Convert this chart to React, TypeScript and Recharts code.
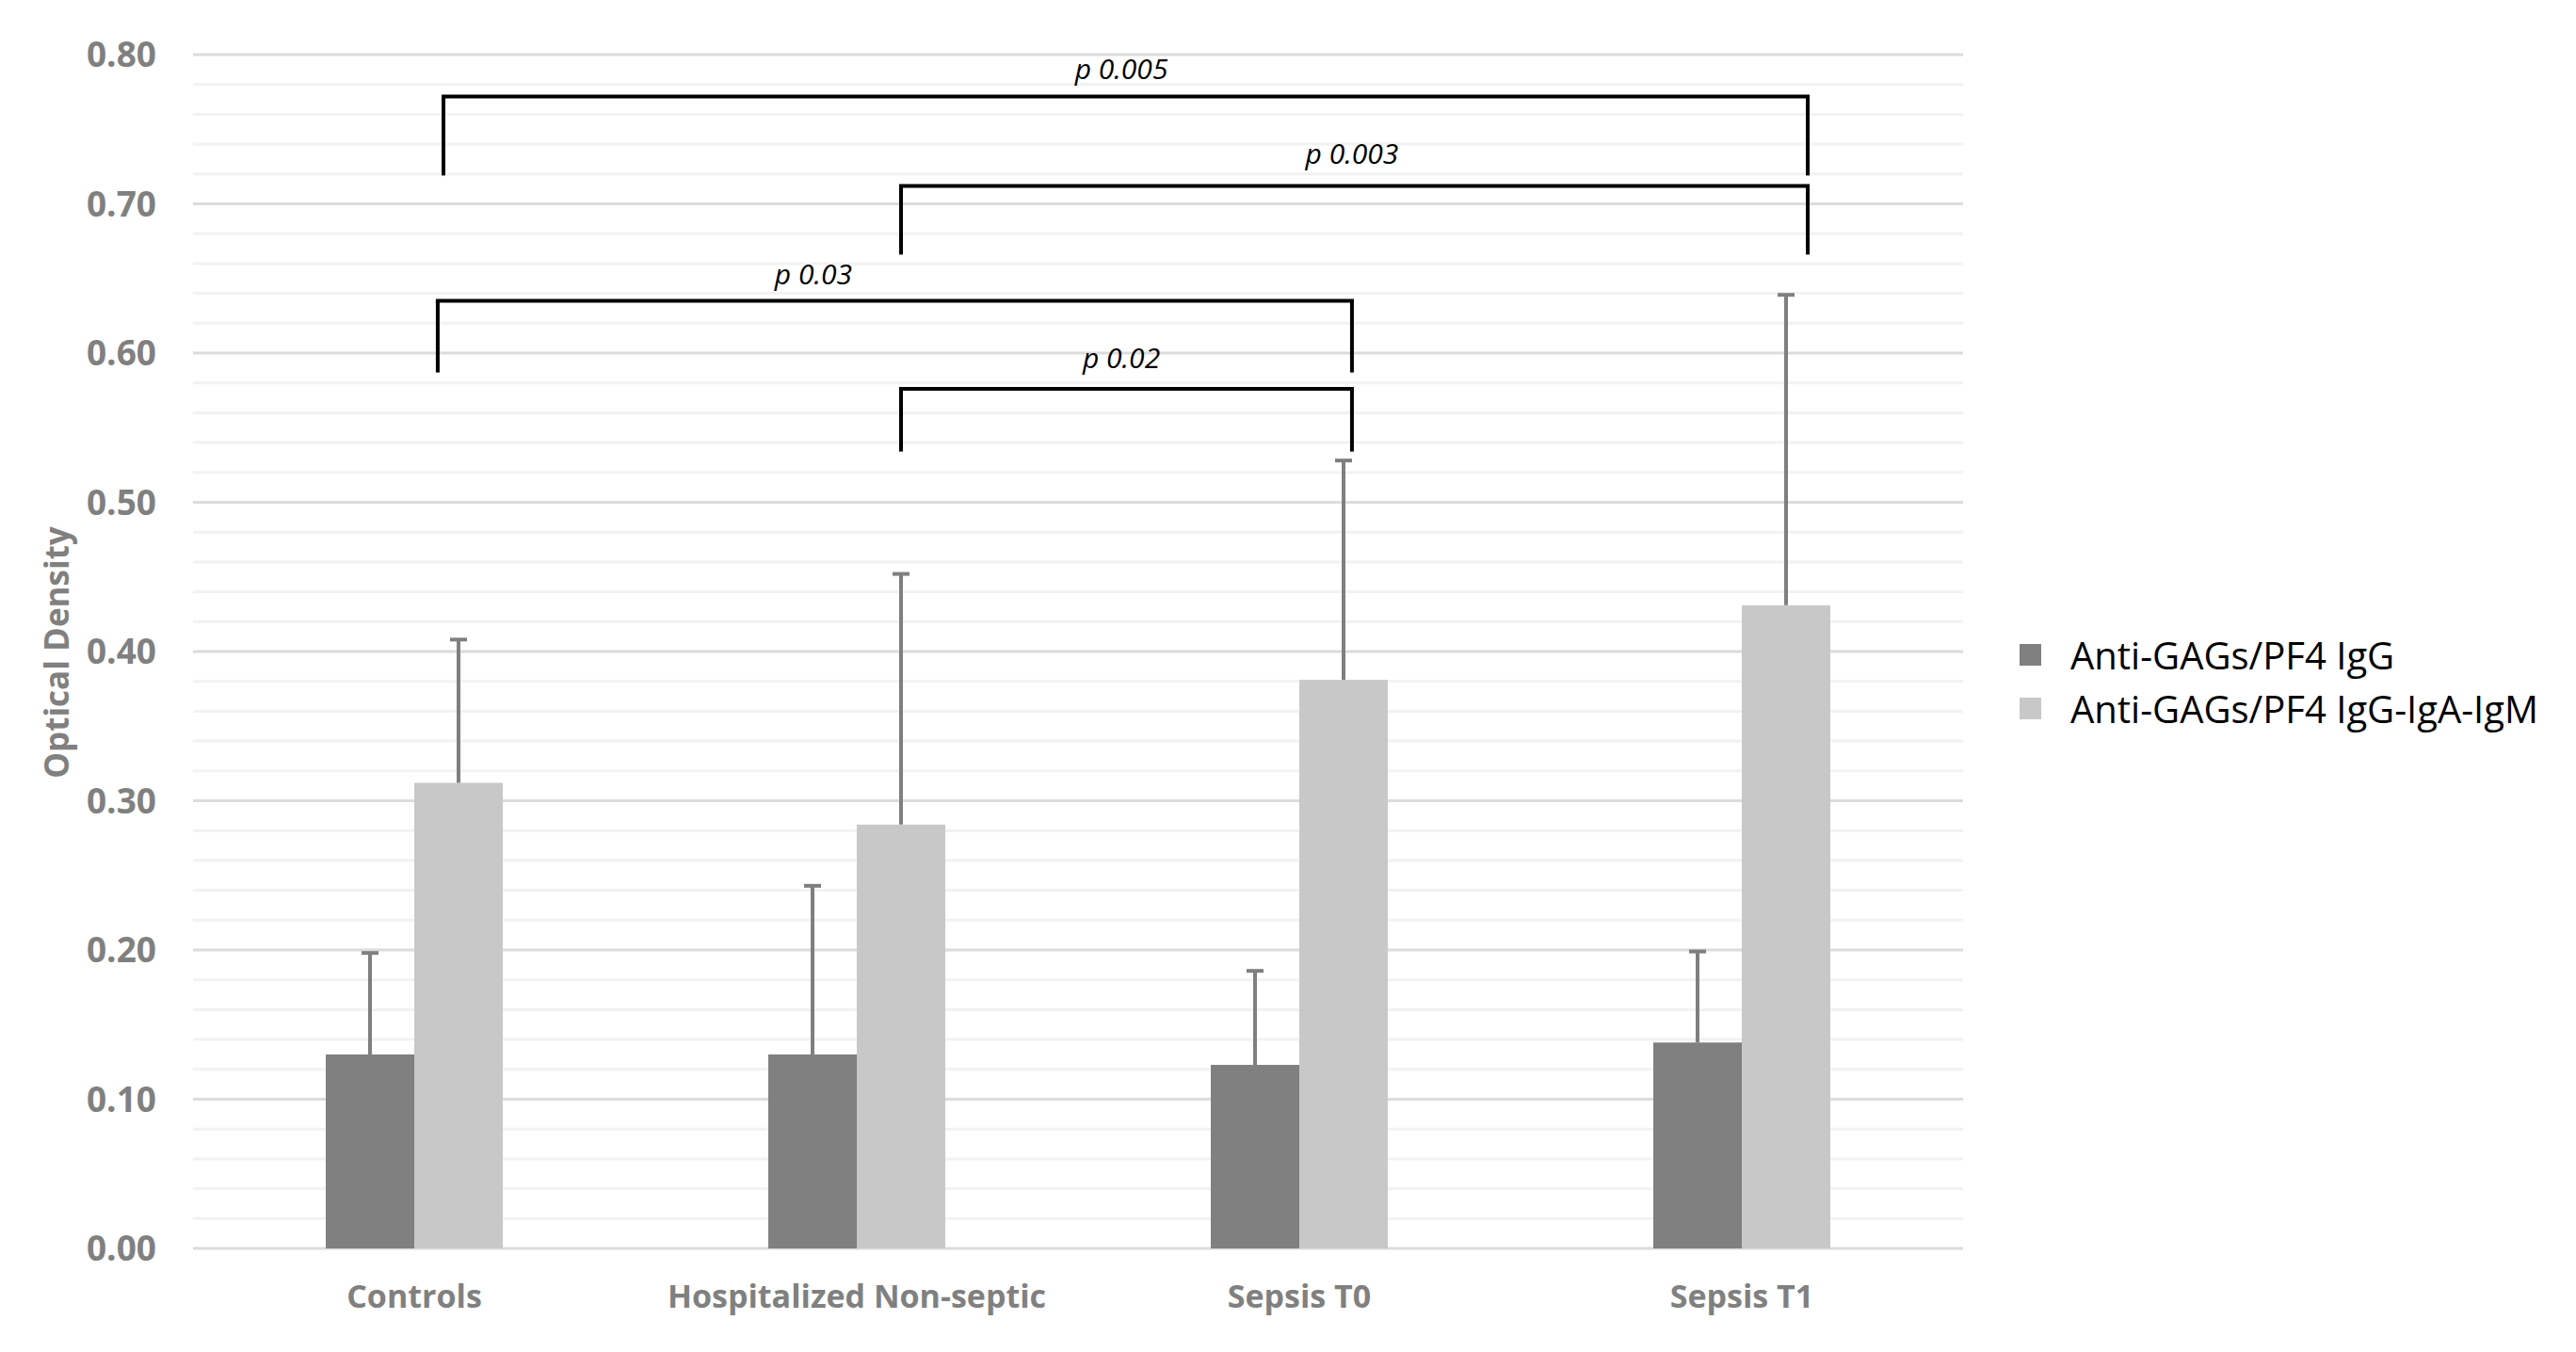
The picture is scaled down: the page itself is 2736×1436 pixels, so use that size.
import { BarChart, Bar, XAxis, YAxis, CartesianGrid, Legend, ReferenceLine, ReferenceDot } from "recharts";

// groups on the x axis
const categories = ["Controls", "Hospitalized Non-septic", "Sepsis T0", "Sepsis T1"];

// mean optical density and SD (upper error bar only)
const iggMean = [0.13, 0.13, 0.123, 0.138];
const iggSd = [0.068, 0.113, 0.063, 0.061];
const allMean = [0.312, 0.284, 0.381, 0.431];
const allSd = [0.096, 0.168, 0.147, 0.208];

const seriesNames = ["Anti-GAGs/PF4 IgG", "Anti-GAGs/PF4 IgG-IgA-IgM"];
const seriesColors = ["#808080", "#c8c8c8"];

// every 0.02 gets a grid line, every 0.1 a label
const yTicks = [
  0, 0.02, 0.04, 0.06, 0.08, 0.1, 0.12, 0.14, 0.16, 0.18, 0.2, 0.22, 0.24, 0.26, 0.28, 0.3,
  0.32, 0.34, 0.36, 0.38, 0.4, 0.42, 0.44, 0.46, 0.48, 0.5, 0.52, 0.54, 0.56, 0.58, 0.6,
  0.62, 0.64, 0.66, 0.68, 0.7, 0.72, 0.74, 0.76, 0.78, 0.8,
];

// significance brackets (x in category units, 0..4; y in OD units)
const pLabels = ["p 0.005", "p 0.003", "p 0.03", "p 0.02"];
const bracketFrom = [0.566, 1.6, 0.553, 1.6];
const bracketTo = [3.649, 3.649, 2.619, 2.619];
const bracketTop = [0.772, 0.712, 0.635, 0.576];
const bracketFoot = [0.719, 0.666, 0.587, 0.534];
const pLabelX = [2.098, 2.619, 1.402, 2.098];
const pLabelY = [0.791, 0.734, 0.653, 0.597];

const data = categories.map((name, i) => ({
  name,
  pos: i + 0.5,
  igg: iggMean[i],
  iggSd: iggSd[i],
  all: allMean[i],
  allSd: allSd[i],
}));

const FONT = "'Open Sans', sans-serif";
const AXIS_GRAY = "#808080";

const isMajor = (v: number) => Math.round(v * 100) % 10 === 0;

// bar plus a one-sided error bar, scaled with the bar's own px/unit ratio
const barWithError = (sdKey: string, valKey: string) => (props: any) => {
  const { x, y, width, height, fill, payload } = props;
  const val = payload[valKey];
  const sd = payload[sdKey];
  const pxPerUnit = val ? height / val : 0;
  const cx = x + width / 2;
  const top = y - sd * pxPerUnit;
  return (
    <g>
      <rect x={x} y={y} width={width} height={height} fill={fill} />
      <line x1={cx} y1={y} x2={cx} y2={top} stroke="#7f7f7f" strokeWidth={4} />
      <line x1={cx - 9} y1={top} x2={cx + 9} y2={top} stroke="#7f7f7f" strokeWidth={4} />
    </g>
  );
};

const gridLine = (props: any) => {
  const major = props.index % 5 === 0;
  return (
    <line
      key={props.key}
      x1={props.x1}
      y1={props.y1}
      x2={props.x2}
      y2={props.y2}
      stroke={major ? "#dcdcdc" : "#f2f2f2"}
      strokeWidth={3}
    />
  );
};

const renderLegend = () => (
  <div style={{ fontFamily: FONT, fontSize: 40, color: "#000" }}>
    {seriesNames.map((n, i) => (
      <div key={n} style={{ display: "flex", alignItems: "center", height: 57, whiteSpace: "nowrap" }}>
        <span style={{ display: "inline-block", width: 23, height: 23, background: seriesColors[i], marginRight: 31 }} />
        <span>{n}</span>
      </div>
    ))}
  </div>
);

const yLabel = (props: any) => {
  const vb = props.viewBox;
  const cx = vb.x + 59;
  const cy = vb.y + vb.height / 2 + 1;
  return (
    <text
      x={cx}
      y={cy}
      transform={`rotate(-90, ${cx}, ${cy})`}
      textAnchor="middle"
      dominantBaseline="central"
      fill={AXIS_GRAY}
      fontFamily={FONT}
      fontWeight={700}
      fontSize={35}
    >
      Optical Density
    </text>
  );
};

const pText = (text: string) => (props: any) => {
  const vb = props.viewBox;
  return (
    <text
      x={vb.x + vb.width / 2}
      y={vb.y + vb.height / 2}
      textAnchor="middle"
      dominantBaseline="central"
      fontFamily={FONT}
      fontStyle="italic"
      fontSize={30}
      fill="#000"
    >
      {text}
    </text>
  );
};

export default function App() {
  return (
    <div style={{ width: 2736, height: 1436, background: "#fff" }}>
      <style>{"body{margin:0}"}</style>
      <BarChart
        width={2736}
        height={1436}
        data={data}
        margin={{ top: 58, right: 651, left: 0, bottom: 0 }}
        barCategoryGap="30%"
        barGap={0}
        style={{ fontFamily: FONT }}
      >
        <CartesianGrid vertical={false} horizontal={gridLine} />
        <XAxis
          dataKey="name"
          axisLine={false}
          tickLine={false}
          tickSize={0}
          tickMargin={39}
          interval={0}
          height={110}
          tick={{ fill: AXIS_GRAY, fontSize: 34, fontWeight: 700, fontFamily: FONT }}
        />
        <XAxis xAxisId="pos" dataKey="pos" type="number" domain={[0, 4]} allowDataOverflow hide />
        <YAxis
          domain={[0, 0.8]}
          ticks={yTicks}
          interval={0}
          width={205}
          axisLine={false}
          tickLine={false}
          tickSize={0}
          tickMargin={39}
          tickFormatter={(v: number) => (isMajor(v) ? v.toFixed(2) : "")}
          tick={{ fill: AXIS_GRAY, fontSize: 37, fontWeight: 700, fontFamily: FONT }}
          label={{ content: yLabel }}
        />
        <Bar dataKey="igg" name={seriesNames[0]} fill={seriesColors[0]} isAnimationActive={false} shape={barWithError("iggSd", "igg")} />
        <Bar dataKey="all" name={seriesNames[1]} fill={seriesColors[1]} isAnimationActive={false} shape={barWithError("allSd", "all")} />
        {pLabels.map((p, i) => (
          <ReferenceLine
            key={`h-${p}`}
            xAxisId="pos"
            segment={[{ x: bracketFrom[i], y: bracketTop[i] }, { x: bracketTo[i], y: bracketTop[i] }]}
            stroke="#000"
            strokeWidth={4}
            strokeLinecap="square"
          />
        ))}
        {pLabels.map((p, i) => (
          <ReferenceLine
            key={`l-${p}`}
            xAxisId="pos"
            segment={[{ x: bracketFrom[i], y: bracketTop[i] }, { x: bracketFrom[i], y: bracketFoot[i] }]}
            stroke="#000"
            strokeWidth={4}
          />
        ))}
        {pLabels.map((p, i) => (
          <ReferenceLine
            key={`r-${p}`}
            xAxisId="pos"
            segment={[{ x: bracketTo[i], y: bracketTop[i] }, { x: bracketTo[i], y: bracketFoot[i] }]}
            stroke="#000"
            strokeWidth={4}
          />
        ))}
        {pLabels.map((p, i) => (
          <ReferenceDot
            key={`t-${p}`}
            xAxisId="pos"
            x={pLabelX[i]}
            y={pLabelY[i]}
            r={1}
            fill="none"
            stroke="none"
            label={{ content: pText(p) }}
          />
        ))}
        <Legend
          layout="vertical"
          align="center"
          verticalAlign="middle"
          content={renderLegend}
          wrapperStyle={{ left: 2145, top: 667, width: 591 }}
        />
      </BarChart>
    </div>
  );
}
